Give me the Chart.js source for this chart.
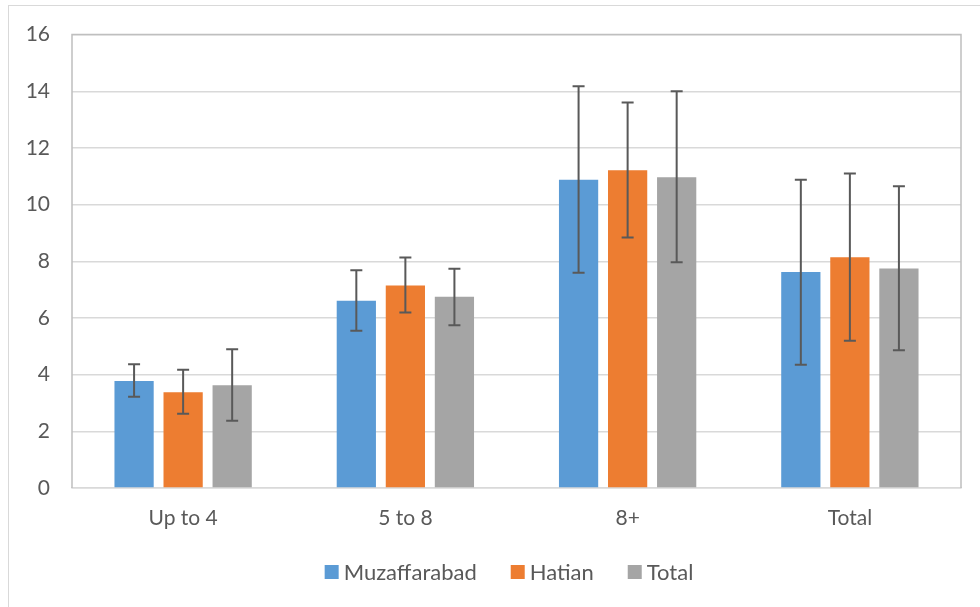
<!DOCTYPE html>
<html>
<head>
<meta charset="utf-8">
<script src="https://cdn.jsdelivr.net/npm/chart.js@4"></script>
<style>
  html, body { margin: 0; padding: 0; background: #fff; }
  #wrap { width: 980px; height: 607px; }
</style>
</head>
<body>
<div id="wrap"><canvas id="chart" width="980" height="607"></canvas></div>
<script>
// categories and values
const categories = ['Up to 4', '5 to 8', '8+', 'Total'];
const seriesNames = ['Muzaffarabad', 'Hatian', 'Total'];

const muzaffarabad = [3.78, 6.61, 10.88, 7.62];
const hatian = [3.38, 7.15, 11.21, 8.14];
const total = [3.63, 6.75, 10.97, 7.75];

// error bar ends
const muzUpper = [4.37, 7.68, 14.18, 10.88];
const muzLower = [3.22, 5.55, 7.6, 4.35];
const hatUpper = [4.17, 8.13, 13.6, 11.1];
const hatLower = [2.62, 6.19, 8.84, 5.2];
const totUpper = [4.9, 7.74, 14.0, 10.65];
const totLower = [2.37, 5.74, 7.97, 4.86];

const yTicks = [0, 2, 4, 6, 8, 10, 12, 14, 16];

const colors = ['#5B9BD5', '#ED7D31', '#A5A5A5'];
const textColor = '#595959';
const fontFamily = 'Lato, "Open Sans", sans-serif';

const errorBars = [
  { upper: muzUpper, lower: muzLower },
  { upper: hatUpper, lower: hatLower },
  { upper: totUpper, lower: totLower }
];

// outer frame + plot area border
const framePlugin = {
  id: 'frame',
  beforeDraw(chart) {
    const ctx = chart.ctx;
    ctx.save();
    ctx.strokeStyle = '#d9d9d9';
    ctx.lineWidth = 1;
    ctx.strokeRect(8.5, 5.5, 1000, 1000);
    ctx.restore();
  },
  beforeDatasetsDraw(chart) {
    const a = chart.chartArea;
    const ctx = chart.ctx;
    ctx.save();
    ctx.strokeStyle = '#bfbfbf';
    ctx.lineWidth = 1.5;
    ctx.beginPath();
    ctx.moveTo(a.left, a.bottom);
    ctx.lineTo(a.left, a.top);
    ctx.lineTo(a.right, a.top);
    ctx.lineTo(a.right, a.bottom);
    ctx.stroke();
    ctx.restore();
  }
};

// error bars drawn from the y scale
const errorBarPlugin = {
  id: 'errorBars',
  afterDatasetsDraw(chart) {
    const ctx = chart.ctx;
    const y = chart.scales.y;
    ctx.save();
    ctx.strokeStyle = '#595959';
    ctx.lineWidth = 2;
    chart.data.datasets.forEach((ds, di) => {
      const meta = chart.getDatasetMeta(di);
      meta.data.forEach((bar, i) => {
        const x = bar.x;
        const top = y.getPixelForValue(errorBars[di].upper[i]);
        const bot = y.getPixelForValue(errorBars[di].lower[i]);
        ctx.beginPath();
        ctx.moveTo(x, top);
        ctx.lineTo(x, bot);
        ctx.moveTo(x - 6, top);
        ctx.lineTo(x + 6, top);
        ctx.moveTo(x - 6, bot);
        ctx.lineTo(x + 6, bot);
        ctx.stroke();
      });
    });
    ctx.restore();
  }
};

// legend drawn by hand so the item spacing matches Excel's
const legendPlugin = {
  id: 'excelLegend',
  afterDraw(chart) {
    const ctx = chart.ctx;
    const box = 14, gapText = 5, gapItem = 34;
    const cx = 509, cy = 572;
    ctx.save();
    ctx.font = '22px ' + fontFamily;
    ctx.textBaseline = 'middle';
    const items = chart.data.datasets.map(ds => ({
      label: ds.label, color: ds.backgroundColor, w: ctx.measureText(ds.label).width
    }));
    let totalW = 0;
    items.forEach((it, i) => { totalW += box + gapText + it.w + (i ? gapItem : 0); });
    let x = cx - totalW / 2;
    items.forEach(it => {
      ctx.fillStyle = it.color;
      ctx.fillRect(x, cy - box / 2, box, box);
      ctx.fillStyle = textColor;
      ctx.fillText(it.label, x + box + gapText, cy + 1);
      x += box + gapText + it.w + gapItem;
    });
    ctx.restore();
  }
};

const ctx = document.getElementById('chart').getContext('2d');
const chart = new Chart(ctx, {
  type: 'bar',
  data: {
    labels: categories,
    datasets: [
      { label: seriesNames[0], data: muzaffarabad, backgroundColor: colors[0] },
      { label: seriesNames[1], data: hatian, backgroundColor: colors[1] },
      { label: seriesNames[2], data: total, backgroundColor: colors[2] }
    ]
  },
  options: {
    responsive: false,
    animation: false,
    devicePixelRatio: 1,
    layout: { padding: { left: 0, top: 34, right: 19, bottom: 59 } },
    datasets: {
      bar: { categoryPercentage: 0.662, barPercentage: 0.8 }
    },
    plugins: {
      legend: { display: false },
      tooltip: { enabled: false }
    },
    scales: {
      x: {
        grid: { display: false, drawTicks: false },
        border: { display: true, color: '#d9d9d9', width: 1.5 },
        ticks: {
          color: textColor,
          font: { family: fontFamily, size: 21 },
          padding: 18,
          maxRotation: 0
        },
        afterFit(scale) { scale.height = 60; }
      },
      y: {
        min: 0,
        max: 16,
        afterBuildTicks(scale) { scale.ticks = yTicks.map(v => ({ value: v })); },
        grid: { color: '#d9d9d9', lineWidth: 1.5, drawTicks: false },
        border: { display: false },
        ticks: {
          color: textColor,
          font: { family: fontFamily, size: 21 },
          padding: 22
        },
        afterFit(scale) { scale.width = 72; }
      }
    }
  },
  plugins: [framePlugin, errorBarPlugin, legendPlugin]
});
</script>
</body>
</html>
